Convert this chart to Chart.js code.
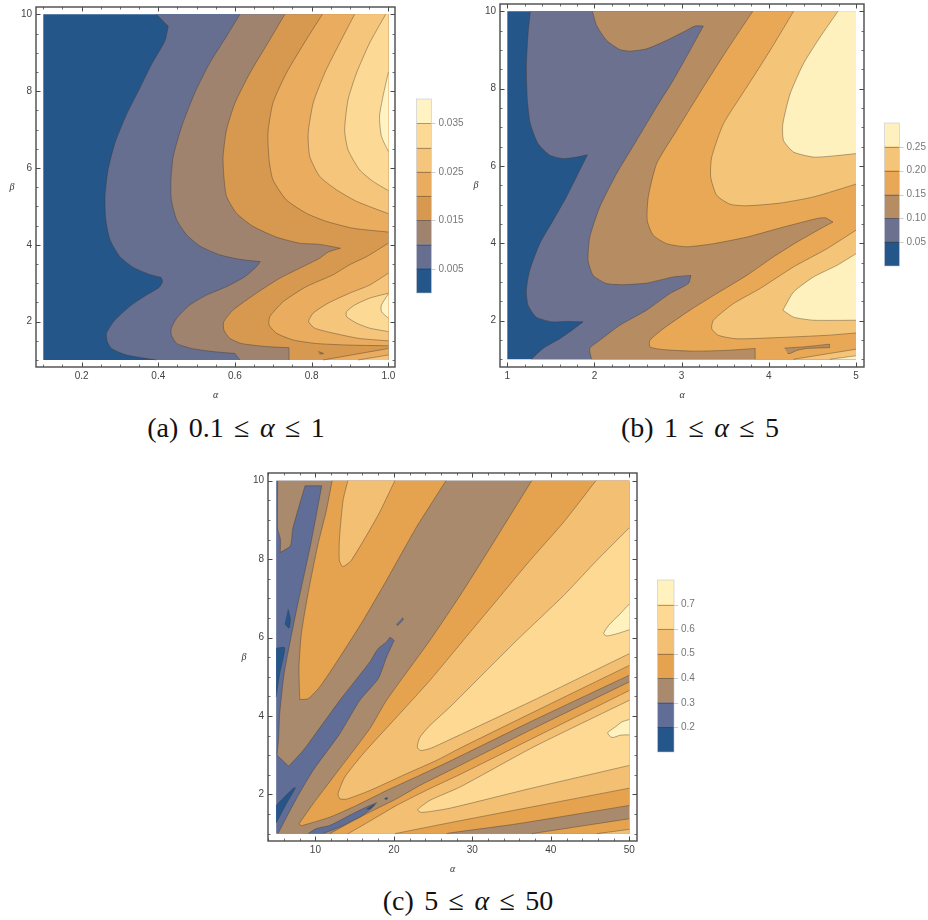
<!DOCTYPE html>
<html><head><meta charset="utf-8">
<script src="https://cdn.jsdelivr.net/npm/chart.js@4"></script>
<style>
html,body{margin:0;padding:0;background:#fff;width:928px;height:920px;overflow:hidden}
canvas{position:absolute}
.cap{position:absolute;font:28px "Liberation Serif",serif;color:#111;white-space:nowrap;transform:translateX(-50%);line-height:30px;word-spacing:3.4px}
.cap i{font-style:italic}
</style></head><body>
<canvas id="pa" width="410" height="410" style="left:0;top:0"></canvas>
<canvas id="ba" width="60" height="220" style="left:405px;top:85px"></canvas>
<canvas id="pb" width="410" height="410" style="left:465px;top:0"></canvas>
<canvas id="bb" width="50" height="170" style="left:878px;top:110px"></canvas>
<canvas id="pc" width="410" height="420" style="left:233px;top:465px"></canvas>
<canvas id="bc" width="60" height="200" style="left:650px;top:566px"></canvas>
<div class="cap" style="left:236px;top:413px">(a) 0.1 ≤ <i>α</i> ≤ 1</div>
<div class="cap" style="left:700px;top:413px">(b) 1 ≤ <i>α</i> ≤ 5</div>
<div class="cap" style="left:468px;top:886px">(c) 5 ≤ <i>α</i> ≤ 50</div>
<script>
// ---------- colours of the bands, lowest band first ----------
const colorsA=['#24568a','#666f90','#a0836f','#d6994f','#eaac5e','#f5c57c','#fcda95','#fff3c3'];
const colorsB=['#24568a','#6c7190','#b68d62','#e8a855','#f4c578','#fff1bd'];
const colorsC=['#24568a','#606d96','#a98a6c','#e5a350','#f3bf72','#fdd993','#fff2be'];
// ---------- colour-bar levels and ticks ----------
const edgesA=[0,0.005,0.01,0.015,0.02,0.025,0.03,0.035,0.04];
const ticksBarA=[0.005,0.015,0.025,0.035];
const edgesB=[0,0.05,0.1,0.15,0.2,0.25,0.3];
const ticksBarB=[0.05,0.1,0.15,0.2,0.25];
const edgesC=[0.1,0.2,0.3,0.4,0.5,0.6,0.7,0.8];
const ticksBarC=[0.2,0.3,0.4,0.5,0.6,0.7];
// ---------- axis ticks ----------
const xTicksA=[0.2,0.4,0.6,0.8,1.0], xTicksB=[1,2,3,4,5], xTicksC=[10,20,30,40,50];
const yTicks=[2,4,6,8,10];

// ---------- panel (a) contours, [alpha,beta] ----------
const a1=[[.395,10],[.426,9.69],[.426,9.69],[.417,9.30],[.382,8.69],[.352,8.08],[.317,7.39],[.287,6.65],[.269,5.95],[.261,5.26],[.263,4.65],[.274,4.13],[.300,3.69],[.335,3.41],[.374,3.24],[.391,3.19],[.407,3.15],[.411,3.04],[.402,2.89],[.369,2.69],[.330,2.43],[.287,2.04],[.265,1.70],[.267,1.48],[.278,1.30],[.317,1.13],[.395,1]];
const a2=[[.613,10],[.578,9.43],[.534,8.73],[.495,7.95],[.461,7.08],[.439,6.30],[.433,5.69],[.434,5.17],[.448,4.65],[.474,4.26],[.508,3.97],[.560,3.74],[.613,3.62],[.666,3.56],[.666,3.56],[.656,3.43],[.626,3.17],[.578,2.91],[.526,2.69],[.482,2.43],[.448,2.09],[.434,1.83],[.434,1.65],[.448,1.43],[.487,1.30],[.543,1.22],[.600,1.17],[.600,1.17],[.613,1]];
const a3=[[.730,10],[.691,9.34],[.639,8.47],[.600,7.69],[.578,6.99],[.569,6.30],[.571,5.78],[.578,5.26],[.604,4.82],[.647,4.48],[.708,4.20],[.769,4.04],[.821,4.01],[.875,3.91],[.875,3.91],[.843,3.81],[.821,3.65],[.769,3.39],[.717,3.13],[.656,2.74],[.595,2.30],[.571,2.0],[.571,1.78],[.587,1.56],[.617,1.43],[.682,1.35],[.741,1.32],[.741,1.32],[.741,1]];
const a3spot=[[.817,1.22],[.831,1.17],[.821,1.15]];
const a4up=[[.828,10],[.786,9.34],[.734,8.47],[.699,7.69],[.686,6.91],[.689,6.21],[.699,5.69],[.734,5.17],[.786,4.82],[.838,4.61],[.908,4.43],[1,4.33]];
const a4low=[[1,4.04],[.943,3.69],[.899,3.48],[.856,3.22],[.786,2.91],[.726,2.52],[.691,2.13],[.689,1.91],[.708,1.70],[.752,1.52],[.812,1.43],[.891,1.39],[1,1.37]];
const a4bot=[[.830,1],[1,1.30]];
const a5up=[[.912,10],[.873,9.25],[.834,8.47],[.804,7.69],[.791,6.91],[.795,6.30],[.821,5.78],[.865,5.43],[.917,5.13],[1,4.81]];
const a5low=[[1,3.26],[.951,2.95],[.899,2.74],[.843,2.48],[.804,2.22],[.792,2.0],[.808,1.83],[.856,1.70],[.925,1.56],[1,1.50]];
const a5bot=[[.921,1],[1,1.13]];
const a6up=[[.993,10],[.951,9.25],[.917,8.47],[.895,7.78],[.886,6.99],[.895,6.47],[.925,5.95],[.960,5.65],[1,5.41]];
const a6low=[[1,2.74],[.951,2.61],[.912,2.43],[.891,2.26],[.891,2.13],[.917,1.96],[.951,1.83],[1,1.74]];
const a7up=[[1,8.49],[.986,7.86],[.977,7.34],[.982,6.82],[1,6.43]];
const a7low=[[1,2.72],[.982,2.43],[.982,2.26],[1,2.09]];

// ---------- panel (b) contours ----------
const b1=[[1.264,10],[1.238,9.42],[1.218,8.56],[1.230,7.70],[1.264,7.09],[1.352,6.58],[1.487,6.28],[1.640,6.19],[1.793,6.23],[1.920,6.29],[1.920,6.29],[1.831,5.89],[1.678,5.20],[1.525,4.59],[1.372,3.99],[1.257,3.30],[1.218,2.78],[1.238,2.40],[1.333,2.09],[1.506,1.97],[1.678,1.98],[1.870,1.97],[1.870,1.97],[1.755,1.77],[1.602,1.53],[1.410,1.28],[1.276,1]];
const b2=[[1.977,10],[2.023,9.64],[2.138,9.25],[2.291,9.01],[2.406,8.97],[2.598,9.03],[2.828,9.25],[3.057,9.51],[3.153,9.62],[3.249,9.62],[3.249,9.62],[3.096,8.99],[2.904,8.22],[2.713,7.53],[2.483,6.66],[2.253,5.80],[2.061,4.94],[1.946,4.16],[1.927,3.56],[1.985,3.17],[2.138,2.96],[2.330,2.93],[2.598,2.97],[2.904,3.13],[3.107,3.17],[3.107,3.17],[3.077,2.96],[2.866,2.70],[2.598,2.27],[2.291,1.88],[2.061,1.49],[1.946,1.28],[1.966,1]];
const b3=[[3.816,10],[3.517,8.99],[3.249,8.04],[2.943,6.92],[2.713,6.06],[2.617,5.20],[2.605,4.59],[2.674,4.21],[2.828,3.99],[3.057,3.91],[3.364,3.99],[3.747,4.16],[4.169,4.42],[4.552,4.64],[4.648,4.66],[4.736,4.55],[4.736,4.55],[4.628,4.42],[4.322,4.03],[4.054,3.65],[3.747,3.17],[3.402,2.70],[3.096,2.27],[2.789,1.79],[2.636,1.49],[2.636,1.32],[2.789,1.25],[3.134,1.21],[3.517,1.23],[3.843,1.28],[3.843,1.28],[3.843,1]];
const b3strip=[[4.180,1.29],[4.398,1.32],[4.697,1.39],[4.697,1.39],[4.697,1.30],[4.697,1.30],[4.437,1.28],[4.322,1.23],[4.245,1.15],[4.215,1.15],[4.215,1.15]];
const b4up=[[4.284,10],[4.015,8.99],[3.747,8.04],[3.479,7.09],[3.345,6.23],[3.333,5.72],[3.402,5.24],[3.556,5.01],[3.747,4.97],[4.130,5.04],[4.513,5.20],[5,5.53]];
const b4low=[[5,4.34],[4.667,3.86],[4.284,3.39],[3.900,2.83],[3.594,2.44],[3.364,2.01],[3.345,1.79],[3.421,1.62],[3.632,1.53],[4.092,1.56],[4.667,1.62],[5,1.68]];
const b4bot=[[4.284,1],[5,1.26]];
const b5up=[[4.793,10],[4.590,9.34],[4.398,8.65],[4.245,7.87],[4.161,7.09],[4.169,6.66],[4.284,6.36],[4.513,6.23],[4.743,6.26],[5,6.32]];
const b5low=[[5,3.73],[4.782,3.43],[4.513,3.13],[4.284,2.74],[4.161,2.27],[4.161,2.27],[4.284,2.09],[4.513,2.01],[5,2.01]];
const b5bot=[[4.70,1],[5,1.09]];

// ---------- panel (c) contours ----------
const c2=[[5.19,10],[5.19,8.77],[5.53,8.52],[5.53,8.17],[5.53,8.17],[6.81,8.34],[7.11,8.77],[8.68,9.87],[8.68,9.87],[10.81,9.87],[10.81,9.87],[9.45,8.43],[7.53,6.64],[6.04,5.11],[5.45,4.06],[5.32,3.46],[5.11,3.0],[5.11,3.0],[6.60,2.72],[6.60,2.72],[8.43,3.12],[9.70,3.46],[13.11,4.40],[16.94,5.38],[18.0,5.72],[19.06,5.89],[19.49,6.01],[19.49,6.01],[20.04,5.93],[20.04,5.93],[19.06,5.50],[18.0,4.95],[15.66,4.40],[13.11,3.55],[9.70,2.61],[7.57,1.89],[5.23,1]];
const cBlade=[[9.06,1],[10.13,1.13],[11.83,1.21],[14.38,1.47],[16.51,1.68],[17.79,1.79],[17.79,1.79],[17.36,1.68],[15.66,1.42],[13.11,1.17],[10.98,1]];
const cBladeDark=[[16.5,1.62],[17.45,1.74],[16.9,1.62]];
const cDot=[[18.77,1.89],[19.19,1.92],[19.06,1.86]];
const cFleck=[[21.11,6.51],[21.19,6.46],[20.47,6.31],[20.34,6.35]];
const cDark1=[[5,5.73],[6.09,5.74],[5.45,5.08],[5,4.48]];
const cDark2=[[6.51,6.73],[6.81,6.48],[6.64,6.24],[6.09,6.35]];
const cDark3=[[5,1.72],[7.15,2.15],[7.45,2.17],[6.30,1.76],[5,1.27]];
const c3a=[[12.13,10],[11.4,9.24],[10.34,8.39],[9.06,7.12],[8.21,6.10],[7.91,5.25],[8.0,4.42],[8.0,4.42],[9.06,4.44],[10.55,4.74],[13.11,5.50],[16.09,6.44],[19.06,7.46],[22.89,8.82],[26.64,10]];
const c3b=[[37.57,10],[33.11,8.56],[28.85,7.20],[24.60,5.93],[19.06,4.40],[16.94,3.68],[13.11,2.66],[9.70,1.76],[7.91,1.25],[7.91,1.25],[8.21,1.20],[8.21,1.20],[11.83,1.42],[15.23,1.72],[19.06,2.10],[23.32,2.49],[27.15,2.85],[37.79,3.89],[50,5.04]];
const c3c1=[[11.83,1],[13.74,1.21],[16.94,1.55],[20.34,1.89],[23.32,2.23],[28.43,2.74],[37.79,3.68],[50,4.87]];
const c3c2=[[50,1.72],[35.66,1.25],[27.15,1.02],[26.72,1]];
const c3d=[[37.57,1],[50,1.38]];
const c4a=[[14.13,10],[13.53,9.50],[13.06,8.51],[13.06,7.96],[13.49,7.81],[14.55,7.96],[17.96,9.11],[20.13,10]];
const c4b=[[45.74,10],[41.62,8.94],[37.36,7.97],[33.11,6.95],[28.85,5.93],[24.60,4.91],[20.34,3.97],[16.09,3.04],[13.74,2.44],[12.89,2.02],[13.11,1.89],[13.96,1.88],[16.94,2.10],[21.19,2.49],[25.45,2.87],[28.43,3.18],[37.79,4.10],[50,5.29]];
const c4c1=[[14.17,1],[16.94,1.32],[20.34,1.72],[24.60,2.15],[28.43,2.51],[37.79,3.44],[50,4.65]];
const c4c2=[[50,2.16],[27.15,1.28],[20.13,1]];
const c4d=[[45.87,1],[50,1.11]];
const c5a=[[50,8.80],[45.87,7.97],[41.62,7.07],[35.66,5.93],[31.40,5.08],[27.15,4.23],[24.60,3.76],[23.32,3.46],[22.98,3.21],[23.40,3.12],[24.60,3.17],[27.15,3.40],[37.79,4.40],[50,5.59]];
const c5b=[[50,4.40],[37.79,3.21],[28.43,2.19],[24.60,1.85],[23.02,1.61],[23.53,1.54],[27.15,1.65],[37.36,2.15],[50,2.74]];
const c6a=[[50,6.86],[48.85,6.61],[47.36,6.31],[46.72,6.10],[47.15,6.04],[48.64,6.11],[50,6.20]];
const c6b=[[50,3.91],[49.06,3.85],[48.21,3.72],[47.23,3.57],[47.79,3.45],[48.85,3.51],[50,3.52]];

// ---------- regions painted in order: [band, arcs...]; one-point arcs are plot corners ----------
const regionsA=[
 [0,[[.1,1]],[[1,1]],[[1,10]],[[.1,10]]],
 [1,a1,[[1,1]],[[1,10]]],
 [2,a2,[[1,1]],[[1,10]]],
 [3,a3,[[1,1]],[[1,10]]],
 [2,a3spot],
 [4,a4up,[[1,10]]],
 [4,a4low],
 [4,a4bot,[[1,1]]],
 [5,a5up,[[1,10]]],
 [5,a5low],
 [5,a5bot,[[1,1]]],
 [6,a6up,[[1,10]]],
 [6,a6low],
 [7,a7up],
 [7,a7low]];
const regionsB=[
 [0,[[1,1]],[[5,1]],[[5,10]],[[1,10]]],
 [1,b1,[[5,1]],[[5,10]]],
 [2,b2,[[5,1]],[[5,10]]],
 [3,b3,[[5,1]],[[5,10]]],
 [2,b3strip],
 [4,b4up,[[5,10]]],
 [4,b4low],
 [4,b4bot,[[5,1]]],
 [5,b5up,[[5,10]]],
 [5,b5low],
 [5,b5bot,[[5,1]]]];
const regionsC=[
 [1,[[5,1]],[[50,1]],[[50,10]],[[5,10]]],
 [0,cDark1],[0,cDark2],[0,cDark3],
 [2,c2,[[50,1]],[[50,10]]],
 [1,cBlade],[0,cBladeDark],[0,cDot],[1,cFleck],
 [3,c3a],
 [3,c3b,[[50,10]]],
 [3,c3c1,c3c2],
 [3,c3d,[[50,1]]],
 [4,c4a],
 [4,c4b,[[50,10]]],
 [4,c4c1,c4c2],
 [4,c4d,[[50,1]]],
 [5,c5a],[5,c5b],
 [6,c6a],[6,c6b]];

const lineColor='rgba(62,52,42,0.5)', ink='#4a4a4a';
const AXW=30, AXH=30, CURVE=0.2;

function toPts(list){return list.map(p=>({x:p[0],y:p[1]}));}
function noMargins(s){s.paddingTop=0;s.paddingBottom=0;s.paddingLeft=0;s.paddingRight=0;}
function buildDatasets(regions,colors){
  const out=[];
  regions.forEach(r=>{
    const band=r[0], arcs=r.slice(1), pts=[];
    arcs.forEach(a=>{ pts.push(a[0]); a.forEach(p=>pts.push(p)); pts.push(a[a.length-1]); });
    out.push({data:toPts(pts),showLine:true,fill:'shape',backgroundColor:colors[band],borderWidth:0,pointRadius:0,tension:CURVE,parsing:false});
    arcs.filter(a=>a.length>1).forEach(a=>{
      out.push({data:toPts(a),showLine:true,fill:false,borderColor:lineColor,borderWidth:0.8,pointRadius:0,tension:CURVE,parsing:false});
    });
  });
  return out.reverse(); // Chart.js paints the last dataset first
}

const framePlugin={id:'frame',afterDraw(ch,_,o){
  const c=ch.ctx,a=ch.chartArea,sx=ch.scales.x,sy=ch.scales.y;
  c.save();c.strokeStyle=ink;
  function tk(scale,vals,len,horizontal){
    vals.forEach(v=>{const p=Math.round(scale.getPixelForValue(v))+.5;c.beginPath();
      if(horizontal){c.moveTo(p,a.bottom);c.lineTo(p,a.bottom-len);c.moveTo(p,a.top);c.lineTo(p,a.top+len);}
      else{c.moveTo(a.left,p);c.lineTo(a.left+len,p);c.moveTo(a.right,p);c.lineTo(a.right-len,p);}
      c.stroke();});
  }
  function minors(scale,step){const r=[];for(let v=Math.ceil(scale.min/step);v*step<=scale.max;v++)r.push(v*step);return r;}
  c.lineWidth=.8;tk(sx,minors(sx,o.minorX),2.5,true);tk(sy,minors(sy,o.minorY),2.5,false);
  c.lineWidth=1;tk(sx,o.majorX,4.5,true);tk(sy,yTicks,4.5,false);
  c.lineWidth=1.4;c.strokeRect(a.left,a.top,a.right-a.left,a.bottom-a.top);
  c.fillStyle='#333';c.font='italic 10px "Liberation Serif",serif';c.textAlign='center';c.textBaseline='middle';
  c.fillText('α',(a.left+a.right)/2,a.bottom+28);
  c.fillText('β',a.left-24,(a.top+a.bottom)/2);
  c.restore();
}};

function panel(id,cw,ch,f,ranges,regions,colors,majorX,minorX,fmt){
  new Chart(document.getElementById(id),{
    type:'scatter',
    data:{datasets:buildDatasets(regions,colors)},
    plugins:[framePlugin],
    options:{
      responsive:false,animation:false,events:[],
      layout:{padding:{left:f.l-AXW,top:f.t,right:cw-f.r,bottom:ch-f.b-AXH}},
      plugins:{legend:{display:false},tooltip:{enabled:false},
        filler:{drawTime:'beforeDatasetDraw',propagate:false},
        frame:{majorX,minorX,minorY:0.5}},
      scales:{
        x:{type:'linear',min:ranges[0],max:ranges[1],grid:{display:false,drawTicks:false},border:{display:false},
          afterBuildTicks:s=>{s.ticks=majorX.map(v=>({value:v}));},
          afterFit:s=>{s.height=AXH;noMargins(s);},
          ticks:{padding:3,autoSkip:false,maxRotation:0,color:'#444',font:{family:'"Liberation Sans"',size:10},callback:fmt}},
        y:{type:'linear',min:ranges[2],max:ranges[3],grid:{display:false,drawTicks:false},border:{display:false},
          afterBuildTicks:s=>{s.ticks=yTicks.map(v=>({value:v}));},
          afterFit:s=>{s.width=AXW;noMargins(s);},
          ticks:{padding:4,autoSkip:false,color:'#444',font:{family:'"Liberation Sans"',size:10},callback:v=>String(v)}}
      }
    }
  });
}

const barPlugin={id:'barlines',afterDraw(ch,_,o){
  const c=ch.ctx,a=ch.chartArea,sy=ch.scales.y;
  c.save();
  o.edges.slice(1,-1).forEach(v=>{const p=Math.round(sy.getPixelForValue(v))+.5;
    c.strokeStyle='rgba(62,52,42,0.5)';c.lineWidth=.8;c.beginPath();c.moveTo(a.left,p);c.lineTo(a.right,p);c.stroke();});
  o.ticks.forEach(v=>{const p=Math.round(sy.getPixelForValue(v))+.5;
    c.strokeStyle='#ccc';c.lineWidth=1;c.beginPath();c.moveTo(a.right,p);c.lineTo(a.right+4,p);c.stroke();});
  c.strokeStyle='rgba(190,195,205,0.8)';c.lineWidth=.7;c.strokeRect(a.left,a.top,a.right-a.left,a.bottom-a.top);
  c.restore();
}};

function colorbar(id,cw,ch,box,edges,colors,ticks,dec){
  new Chart(document.getElementById(id),{
    type:'bar',
    data:{labels:[''],datasets:colors.map((col,i)=>({data:[[edges[i],edges[i+1]]],backgroundColor:col,borderWidth:0,barPercentage:1,categoryPercentage:1}))},
    plugins:[barPlugin],
    options:{
      responsive:false,animation:false,events:[],
      layout:{padding:{left:box.l,top:box.t,right:0,bottom:ch-box.b}},
      plugins:{legend:{display:false},tooltip:{enabled:false},barlines:{edges,ticks}},
      scales:{
        x:{stacked:true,display:false},
        y:{position:'right',min:edges[0],max:edges[edges.length-1],grid:{display:false,drawTicks:false},border:{display:false},
          afterBuildTicks:s=>{s.ticks=ticks.map(v=>({value:v}));},
          afterFit:s=>{s.width=cw-box.r;noMargins(s);},
          ticks:{padding:7,autoSkip:false,color:'#777',font:{family:'"Liberation Sans"',size:10},callback:v=>Number(v).toFixed(dec)}}
      }
    }
  });
}

const fmt1=v=>Number(v).toFixed(1), fmt0=v=>String(v);
panel('pa',410,410,{l:36,t:7,r:395,b:367},[0.081,1.0174,0.818,10.19],regionsA,colorsA,xTicksA,0.05,fmt1);
panel('pb',410,410,{l:35,t:4,r:399,b:367},[0.916,5.092,0.80,10.19],regionsB,colorsB,xTicksB,0.2,fmt0);
panel('pc',410,420,{l:35,t:8,r:404,b:376},[3.96,50.98,0.813,10.196],regionsC,colorsC,xTicksC,2,fmt0);
colorbar('ba',60,220,{l:11.5,t:14,r:26.5,b:208},edgesA,colorsA,ticksBarA,3);
colorbar('bb',50,170,{l:6.5,t:13,r:21.5,b:156},edgesB,colorsB,ticksBarB,2);
colorbar('bc',60,200,{l:7.5,t:14,r:24,b:186},edgesC,colorsC,ticksBarC,1);
</script>
</body></html>
